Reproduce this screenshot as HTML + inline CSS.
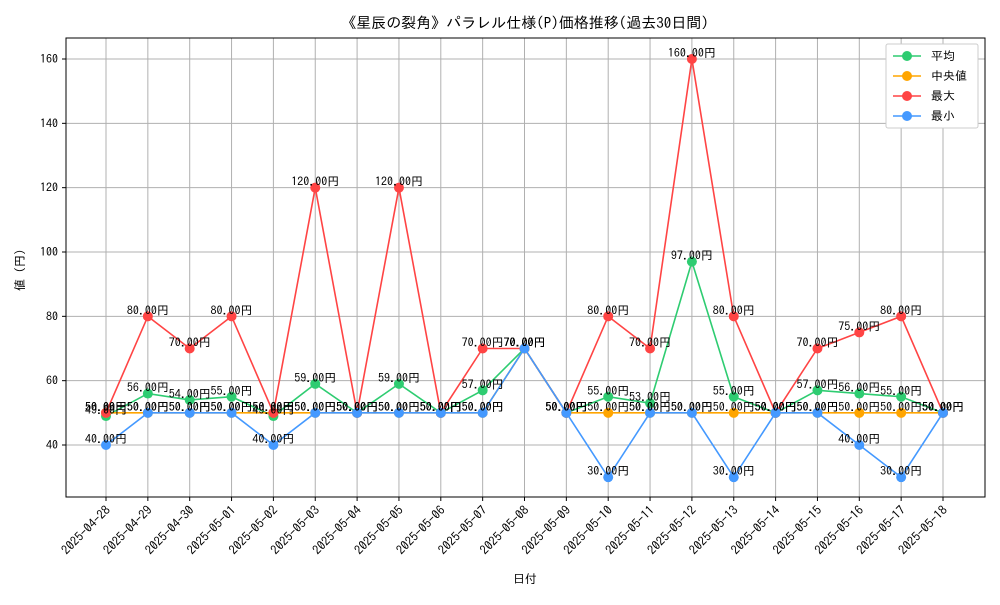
<!DOCTYPE html>
<html><head><meta charset="utf-8"><style>
body{margin:0;background:#fff}
svg{font-family:"IPAGothic","Liberation Sans","Noto Sans CJK JP",sans-serif}
</style></head><body>
<svg id="chart" width="1000" height="600">
<text x="525" y="28" font-size="15" text-anchor="middle">《星辰の裂角》パラレル仕様(P)価格推移(過去30日間)</text>
<text x="525" y="583" font-size="12" text-anchor="middle">日付</text>
<text transform="translate(24,270) rotate(-90)" font-size="12" text-anchor="middle">値 (円)</text>
<g id="grid"></g><g id="lines"></g><g id="labels"></g><g id="ticks"></g>
<rect x="66" y="38" width="919" height="459" fill="none" stroke="#000" stroke-width="1"/>
<g>
<rect x="886" y="44" width="92" height="84" fill="#fff" stroke="#ccc" rx="2"/>
</g><g id="legend"></g>
</svg>
<script>
const dates=["2025-04-28","2025-04-29","2025-04-30","2025-05-01","2025-05-02","2025-05-03","2025-05-04","2025-05-05","2025-05-06","2025-05-07","2025-05-08","2025-05-09","2025-05-10","2025-05-11","2025-05-12","2025-05-13","2025-05-14","2025-05-15","2025-05-16","2025-05-17","2025-05-18"];
const avgVals=[49,56,54,55,49,59,50,59,50,57,70,50,55,53,97,55,50,57,56,55,50];
const medVals=[50,50,50,50,50,50,50,50,50,50,70,50,50,50,50,50,50,50,50,50,50];
const maxVals=[50,80,70,80,50,120,50,120,50,70,70,50,80,70,160,80,50,70,75,80,50];
const minVals=[40,50,50,50,40,50,50,50,50,50,70,50,30,50,50,30,50,50,40,30,50];
const yTicks=[40,60,80,100,120,140,160];
const seriesNames=["平均"," 中央値","最大","最小"];
const NS="http://www.w3.org/2000/svg";
const xS=i=>106+i*(943-106)/(dates.length-1);
const yS=v=>445-(v-40)*(445-59)/120;
function mk(t,a,p){const e=document.createElementNS(NS,t);for(const k in a)e.setAttribute(k,a[k]);p.appendChild(e);return e;}
const grid=document.getElementById('grid'),ticks=document.getElementById('ticks');
dates.forEach((d,i)=>{const x=xS(i);
 const g=mk('line',{x1:x,x2:x,y1:38,y2:497,stroke:'#b0b0b0','stroke-width':1},grid);
 
 mk('line',{x1:x,x2:x,y1:497,y2:501,stroke:'#000'},ticks);
 const t=mk('text',{x:0,y:0,'font-size':12.5,'text-anchor':'end',transform:`translate(${x+5},${511}) rotate(-45)`},ticks);
 t.textContent=d;});
yTicks.forEach(v=>{const y=yS(v);
 const g=mk('line',{x1:66,x2:985,y1:y,y2:y,stroke:'#b0b0b0','stroke-width':1},grid);
 
 mk('line',{x1:62,x2:66,y1:y,y2:y,stroke:'#000'},ticks);
 const t=mk('text',{x:58,y:y+4,'font-size':12,'text-anchor':'end'},ticks);t.textContent=v;
 });
const series=[[avgVals,'#2ecc71','avg'],[medVals,'#ffa500','median'],[maxVals,'#ff4444','max'],[minVals,'#4499ff','min']];
const lines=document.getElementById('lines'),labels=document.getElementById('labels');
series.forEach(([vals,c,n])=>{
 const p=mk('polyline',{points:vals.map((v,i)=>xS(i)+','+yS(v)).join(' '),fill:'none',stroke:c,'stroke-width':1.6},lines);
 
 vals.forEach((v,i)=>{const m=mk('circle',{cx:xS(i),cy:yS(v),r:5,fill:c},lines);
  
  const t=mk('text',{x:xS(i),y:yS(v)-2,'font-size':12,'text-anchor':'middle'},labels);
  t.textContent=v.toFixed(2)+'円';});
});
const lg=document.getElementById('legend');
series.forEach(([vals,c,n],k)=>{const y=56+k*20;
 mk('line',{x1:893,x2:921,y1:y,y2:y,stroke:c,'stroke-width':1.6},lg);
 mk('circle',{cx:907,cy:y,r:5,fill:c},lg);
 const t=mk('text',{x:931,y:y+4,'font-size':12},lg);t.textContent=seriesNames[k];
 });
</script>
</body></html>
